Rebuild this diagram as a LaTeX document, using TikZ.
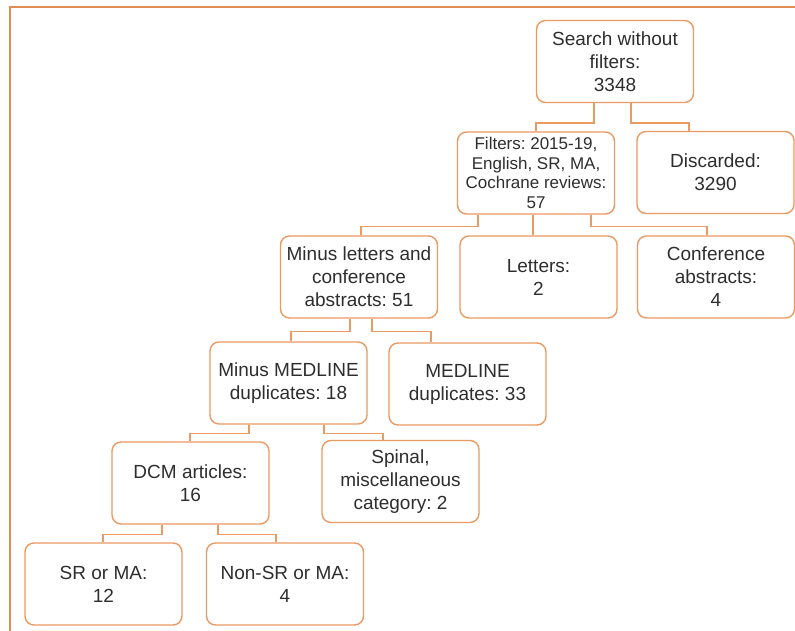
\documentclass[tikz,border=0pt]{standalone}
\usepackage{fontspec}
\setmainfont{Liberation Sans}
\frenchspacing
\usetikzlibrary{calc}
\definecolor{frameor}{HTML}{E08D55}
\definecolor{boxor}{HTML}{EA9A63}
\definecolor{txt}{HTML}{2E2E2E}
\begin{document}
\begin{tikzpicture}[x=1pt,y=-1pt,
  box/.style={draw=boxor,line width=1.4pt,rounded corners=9pt,fill=white,
    minimum width=157pt,minimum height=82pt,align=center,inner sep=2pt,
    text=txt,font=\fontsize{19}{23}\selectfont},
  smallbox/.style={box,font=\fontsize{17}{19.5}\selectfont},
  link/.style={draw=boxor,line width=1.4pt}]
\useasboundingbox (0,0) rectangle (795,631);
\draw[frameor,line width=2.5pt] (10,640) -- (10,7) -- (800,7);

\node[box] (A) at (615,61.5) {Search without\\filters:\\3348};
\node[smallbox] (B) at (536,173) {Filters: 2015-19,\\English, SR, MA,\\Cochrane reviews:\\57};
\node[box] (C) at (715.5,172.5) {Discarded:\\3290};
\node[box] (D) at (359,277) {Minus letters and\\conference\\abstracts: 51};
\node[box] (E) at (538.5,277) {Letters:\\2};
\node[box] (F) at (716,277) {Conference\\abstracts:\\4};
\node[box] (G) at (288.5,383) {Minus MEDLINE\\duplicates: 18};
\node[box] (H) at (467.5,384) {MEDLINE\\duplicates: 33};
\node[box] (I) at (190.5,483) {DCM articles:\\16};
\node[box] (J) at (400.5,481.5) {Spinal,\\miscellaneous\\category: 2};
\node[box] (K) at (103.5,584) {SR or MA:\\12};
\node[box] (L) at (285,584) {Non-SR or MA:\\4};

\draw[link] ([xshift=-21pt]A.south) -- ++(0,20) -| (B.north);
\draw[link] ([xshift=16pt]A.south) -- ++(0,20) -| ([xshift=-26.5pt]C.north);

\draw[link] ([xshift=-58pt]B.south) -- ++(0,12) -| ([xshift=2pt]D.north);
\draw[link] ([xshift=-3pt]B.south) -- ([xshift=-5.5pt]E.north);
\draw[link] ([xshift=55pt]B.south) -- ++(0,12) -| ([xshift=-9pt]F.north);

\draw[link] ([xshift=-9pt]D.south) -- ++(0,13) -| ([xshift=2.5pt]G.north);
\draw[link] ([xshift=13pt]D.south) -- ++(0,13) -| ([xshift=-36.5pt]H.north);

\draw[link] ([xshift=-39.5pt]G.south) -- ++(0,9) -| ([xshift=-0.5pt]I.north);
\draw[link] ([xshift=35.5pt]G.south) -- ++(0,9) -| ([xshift=-17.5pt]J.north);

\draw[link] ([xshift=-28.5pt]I.south) -- ++(0,10) -| ([xshift=-0.5pt]K.north);
\draw[link] ([xshift=27.5pt]I.south) -- ++(0,10) -| ([xshift=-9pt]L.north);
\end{tikzpicture}
\end{document}
